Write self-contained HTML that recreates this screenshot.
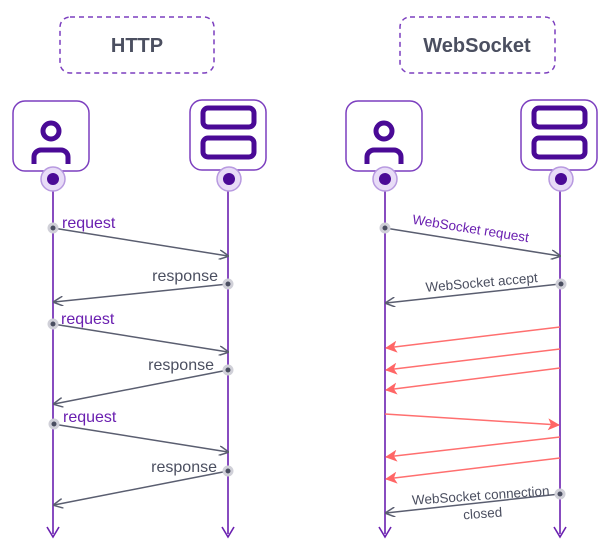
<!DOCTYPE html>
<html><head><meta charset="utf-8"><style>body{margin:0;background:#fff}svg{display:block}</style></head><body>
<svg width="610" height="552" viewBox="0 0 610 552" xmlns="http://www.w3.org/2000/svg" font-family="Liberation Sans, sans-serif">
<defs>
<marker id="ag" viewBox="0 0 10 10" refX="9" refY="5" markerWidth="10" markerHeight="10" orient="auto" markerUnits="userSpaceOnUse"><path d="M0,0 L10,5 L0,10" fill="none" stroke="#5a5e70" stroke-width="1.5"/></marker>
<marker id="ar" viewBox="0 0 12 12" refX="11" refY="6" markerWidth="12" markerHeight="12" orient="auto" markerUnits="userSpaceOnUse"><path d="M0,0 L12,6 L0,12 L3,6 Z" fill="#ff6666"/></marker>
</defs>
<rect x="60" y="17" width="154" height="56" rx="10" fill="none" stroke="#7c3fbf" stroke-width="1.5" stroke-dasharray="5,4"/>
<text x="137" y="52" text-anchor="middle" font-size="20" font-weight="bold" fill="#4b4f60">HTTP</text>
<rect x="400" y="17" width="155" height="56" rx="10" fill="none" stroke="#7c3fbf" stroke-width="1.5" stroke-dasharray="5,4"/>
<text x="477" y="52" text-anchor="middle" font-size="20" font-weight="bold" fill="#4b4f60">WebSocket</text>
<g stroke="#6a1fb0" stroke-width="1.6">
<line x1="53" y1="185" x2="53" y2="534"/><line x1="228" y1="185" x2="228" y2="534"/>
<line x1="385" y1="185" x2="385" y2="534"/><line x1="560" y1="185" x2="560" y2="534"/>
</g>
<g fill="none" stroke="#6a1fb0" stroke-width="1.6">
<path d="M47,527 L53,537 L59,527"/><path d="M222,527 L228,537 L234,527"/>
<path d="M379,527 L385,537 L391,527"/><path d="M554,527 L560,537 L566,527"/>
</g>
<g fill="#fff" stroke="#7c3fbf" stroke-width="1.5">
<rect x="13" y="101" width="76" height="70" rx="12"/><rect x="190" y="100" width="76" height="70" rx="12"/>
<rect x="346" y="101" width="76" height="70" rx="12"/><rect x="521" y="100" width="76" height="70" rx="12"/>
</g>
<g fill="none" stroke="#4a0a96" stroke-width="5">
<circle cx="51" cy="131" r="8"/><path d="M34,164 v-7 a7,7 0 0 1 7,-7 h20 a7,7 0 0 1 7,7 v7"/>
<circle cx="384" cy="131" r="8"/><path d="M367,164 v-7 a7,7 0 0 1 7,-7 h20 a7,7 0 0 1 7,7 v7"/>
<rect x="203" y="108" width="51" height="19" rx="5"/><rect x="203" y="138" width="51" height="19" rx="5"/>
<rect x="534" y="108" width="51" height="19" rx="5"/><rect x="534" y="138" width="51" height="19" rx="5"/>
</g>
<g>
<circle cx="53" cy="179" r="12" fill="#e8dcf7" stroke="#b89ae0" stroke-width="1.5"/><circle cx="53" cy="179" r="6" fill="#4a0a96"/>
<circle cx="229" cy="179" r="12" fill="#e8dcf7" stroke="#b89ae0" stroke-width="1.5"/><circle cx="229" cy="179" r="6" fill="#4a0a96"/>
<circle cx="385" cy="179" r="12" fill="#e8dcf7" stroke="#b89ae0" stroke-width="1.5"/><circle cx="385" cy="179" r="6" fill="#4a0a96"/>
<circle cx="561" cy="179" r="12" fill="#e8dcf7" stroke="#b89ae0" stroke-width="1.5"/><circle cx="561" cy="179" r="6" fill="#4a0a96"/>
</g>
<g stroke="#5a5e70" stroke-width="1.5" marker-end="url(#ag)">
<line x1="53" y1="228" x2="228" y2="256"/><line x1="228" y1="284" x2="54" y2="302"/>
<line x1="53" y1="324" x2="228" y2="352"/><line x1="228" y1="370" x2="54" y2="404"/>
<line x1="53" y1="424" x2="228" y2="452"/><line x1="228" y1="471" x2="54" y2="505"/>
<line x1="385" y1="228" x2="560" y2="256"/><line x1="560" y1="284" x2="386" y2="303"/>
<line x1="560" y1="494" x2="386" y2="513"/>
</g>
<g stroke="#ff6f6f" stroke-width="1.5" marker-end="url(#ar)">
<line x1="560" y1="327" x2="386" y2="348"/><line x1="560" y1="349" x2="386" y2="370"/>
<line x1="560" y1="368" x2="386" y2="390"/><line x1="385" y1="414" x2="559" y2="425"/>
<line x1="560" y1="437" x2="386" y2="457"/><line x1="560" y1="458" x2="386" y2="479"/>
</g>
<g fill="#4a4e60" stroke="#d0d0d8" stroke-width="3">
<circle cx="53" cy="228" r="4"/><circle cx="228" cy="284" r="4"/><circle cx="53" cy="324" r="4"/>
<circle cx="228" cy="370" r="4"/><circle cx="54" cy="424" r="4"/><circle cx="228" cy="471" r="4"/>
<circle cx="385" cy="228" r="4"/><circle cx="561" cy="284" r="4"/><circle cx="560" cy="494" r="4"/>
</g>
<g font-size="16">
<text x="62" y="228" fill="#6a1fb0">request</text>
<text x="61" y="324" fill="#6a1fb0">request</text>
<text x="63" y="422" fill="#6a1fb0">request</text>
<text x="218" y="281" text-anchor="end" fill="#4b4f60">response</text>
<text x="214" y="370" text-anchor="end" fill="#4b4f60">response</text>
<text x="217" y="472" text-anchor="end" fill="#4b4f60">response</text>
</g>
<g font-size="13.5">
<text x="470" y="233" text-anchor="middle" fill="#6a1fb0" transform="rotate(9 470 233)">WebSocket request</text>
<text x="482" y="287" text-anchor="middle" fill="#4b4f60" transform="rotate(-5 482 287)">WebSocket accept</text>
<text x="481" y="500" text-anchor="middle" fill="#4b4f60" transform="rotate(-4 481 500)">WebSocket connection</text>
<text x="483" y="518" text-anchor="middle" fill="#4b4f60" transform="rotate(-4 483 518)">closed</text>
</g>
</svg>
</body></html>
